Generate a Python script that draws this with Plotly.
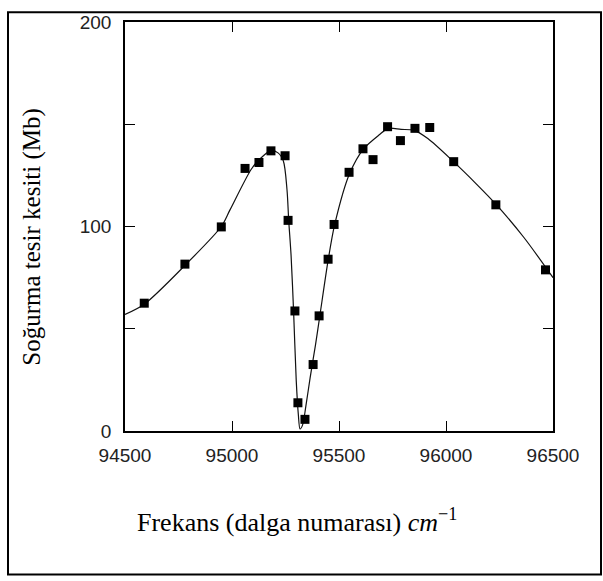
import plotly.graph_objects as go

# Measured points (markers)
freq = [94590, 94780, 94950, 95061, 95126, 95182, 95248, 95262, 95294, 95308,
        95341, 95379, 95407, 95449, 95477, 95547, 95612, 95659, 95727, 95787,
        95855, 95924, 96036, 96233, 96465]
sigma = [62.5, 81.6, 99.8, 128.4, 131.3, 137, 134.6, 103, 58.7, 13.8,
         5.7, 32.5, 56.3, 84, 101, 126.5, 138, 132.7, 148.8, 142,
         148, 148.4, 131.7, 110.6, 78.8]

# Fitted curve
curve_x = [94500, 94590, 94780, 94950, 94990, 95090, 95130, 95180, 95215, 95240,
           95257, 95265, 95276, 95288, 95300, 95310, 95318, 95330, 95345, 95365,
           95390, 95410, 95450, 95480, 95550, 95615, 95690, 95730, 95790, 95850,
           95915, 96035, 96140, 96235, 96365, 96500]
curve_y = [57, 62, 81, 100, 108, 128, 133, 137, 136, 132,
           118, 103, 86, 58, 25, 8, 1, 3, 12, 26,
           42, 56, 84, 101, 126, 138, 145, 148, 147.5, 147,
           143, 131.7, 121, 110.7, 94.5, 75]

x_ticks = [94500, 95000, 95500, 96000, 96500]
x_tick_text = ["94500", "95000", "95500", "96000", "96500"]
y_ticks = [0, 100, 200]
y_tick_text = ["0", "100", "200"]

W, H = 603, 581
L, R, T, B = 125, 50, 12, 150
pw, ph = W - L - R, H - T - B

def px(xp):
    return (xp - L) / pw

def py(yp):
    return (H - B - yp) / ph

fig = go.Figure()
fig.add_trace(go.Scatter(x=curve_x, y=curve_y, mode="lines",
                         line=dict(color="#111", width=1.2, shape="spline", smoothing=0.8),
                         hoverinfo="skip", showlegend=False))
fig.add_trace(go.Scatter(x=freq, y=sigma, mode="markers",
                         marker=dict(symbol="square", size=9, color="black"),
                         showlegend=False))

tickfont = dict(family="Liberation Sans", size=19, color="#222")
fig.update_xaxes(range=[94500, 96500], tickvals=x_ticks, ticktext=x_tick_text,
                 ticks="inside", ticklen=10, tickwidth=1, tickcolor="black",
                 showline=True, linecolor="black", linewidth=1.5, mirror="ticks",
                 showgrid=False, zeroline=False, tickfont=tickfont,
                 ticklabelstandoff=6)
fig.update_yaxes(range=[0, 200], tickvals=y_ticks, ticktext=y_tick_text,
                 ticks="inside", ticklen=10, tickwidth=1, tickcolor="black",
                 minor=dict(ticks="inside", ticklen=10, dtick=50, tickcolor="black", tickwidth=1),
                 showline=True, linecolor="black", linewidth=1.5, mirror="ticks",
                 showgrid=False, zeroline=False, tickfont=tickfont,
                 ticklabelstandoff=8)

serif = dict(family="Liberation Serif", size=26, color="black")
fig.add_annotation(xref="paper", yref="paper", x=px(297), y=py(523),
                   text="Frekans (dalga numarası) <i>cm</i><sup>−1</sup>",
                   showarrow=False, font=serif, xanchor="center", yanchor="middle")
fig.add_annotation(xref="paper", yref="paper", x=px(32), y=py(232),
                   text="Soğurma tesir kesiti (Mb)", textangle=-90,
                   showarrow=False, font=dict(family="Liberation Serif", size=25, color="black"),
                   xanchor="center", yanchor="middle")

fig.add_shape(type="rect", xref="paper", yref="paper",
              x0=px(8), x1=px(601), y0=py(578), y1=py(2),
              line=dict(color="black", width=2), fillcolor="rgba(0,0,0,0)")

fig.update_layout(width=W, height=H, margin=dict(l=L, r=R, t=T, b=B),
                  paper_bgcolor="white", plot_bgcolor="white")

fig.write_html("out.html")
